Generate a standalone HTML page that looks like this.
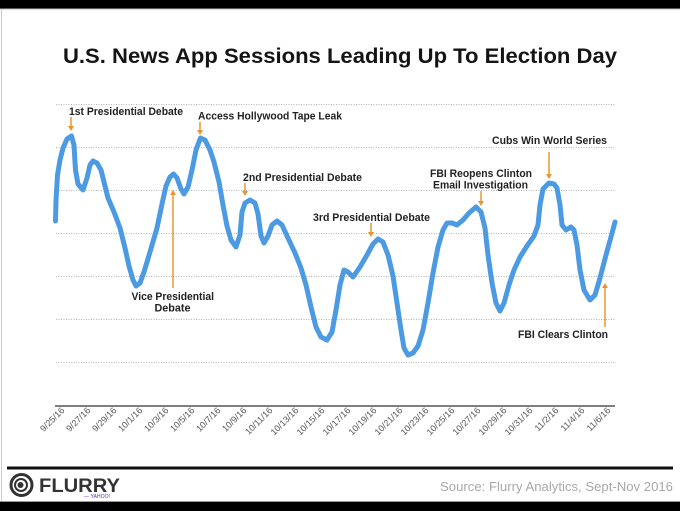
<!DOCTYPE html>
<html><head><meta charset="utf-8"><style>
html,body{margin:0;padding:0;background:#fff;}
svg{display:block;}
text{font-family:"Liberation Sans",sans-serif;}
</style></head><body>
<svg width="680" height="511" viewBox="0 0 680 511" xmlns="http://www.w3.org/2000/svg">
<rect x="0" y="0" width="680" height="511" fill="#fff"/>
<rect x="0" y="0" width="680" height="8.5" fill="#000"/>
<rect x="0" y="8.5" width="680" height="1" fill="#bbb"/>
<rect x="1" y="9" width="1" height="493" fill="#ccc"/>
<rect x="0" y="502" width="680" height="9" fill="#000"/>
<rect x="0" y="501" width="680" height="1" fill="#999"/>

<text x="63" y="63" font-size="21" font-weight="bold" fill="#141414" textLength="554" lengthAdjust="spacingAndGlyphs">U.S. News App Sessions Leading Up To Election Day</text>

<g stroke="#b5b5b5" stroke-width="1" stroke-dasharray="1,1.5">
<line x1="56" y1="104.5" x2="615" y2="104.5"/>
<line x1="56" y1="147.5" x2="615" y2="147.5"/>
<line x1="56" y1="190.5" x2="615" y2="190.5"/>
<line x1="56" y1="233.5" x2="615" y2="233.5"/>
<line x1="56" y1="276.5" x2="615" y2="276.5"/>
<line x1="56" y1="319.5" x2="615" y2="319.5"/>
<line x1="56" y1="362.5" x2="615" y2="362.5"/>
</g>
<line x1="55" y1="406" x2="615" y2="406" stroke="#555" stroke-width="1.5"/>

<polyline fill="none" stroke="#4c9be2" stroke-width="5" stroke-linejoin="round" stroke-linecap="round" points="55.5,221 56,200 57.5,175 60,160 63,148 67,139 71.5,136 74,145 75.5,170 78,184 83,190 87,178 90,165 93,161 97,163 101,170 104,182 108,198 114,212 120,228 125,248 129,266 133,280 136,286 140,283 144,272 150,252 157,228 162,204 166,186 170,177 173.5,174 177,178 181,189 184,194 188,187 192,170 196,150 200.5,138 205,140 210,150 214,162 219,182 223,205 227,226 231,240 236,247 240,235 242,212 245,203 250,200 255,203 258,214 261,236 264,243 268,236 272,225 277,221 282,225 288,238 295,253 301,268 306,285 311,307 316,327 321,337 327,340 332,332 336,310 340,285 344,270 348,272 353,277 360,267 367,255 373,244 378,239 383,242 388,255 393,276 397,303 401,330 404,348 408,355 413,353 418,346 423,330 428,303 433,273 438,247 443,230 447,223 452,223 457,225 463,220 469,213 476,207 481,212 485,228 488,255 492,283 496,303 500,311 504,303 509,285 514,270 520,257 527,246 534,236 538,225 540,205 543,189 549,183 554,184 557,188 560,205 562,225 566,230 571,227 574,230 577,245 580,270 584,290 590,300 595,295 600,278 606,255 611,237 615,222"/>

<g fill="#222" font-weight="bold" font-size="11">
<text x="69" y="115" textLength="114" lengthAdjust="spacingAndGlyphs">1st Presidential Debate</text>
<text x="198" y="119.5" textLength="144" lengthAdjust="spacingAndGlyphs">Access Hollywood Tape Leak</text>
<text x="243" y="181" textLength="119" lengthAdjust="spacingAndGlyphs">2nd Presidential Debate</text>
<text x="313" y="221" textLength="117" lengthAdjust="spacingAndGlyphs">3rd Presidential Debate</text>
<text x="131.5" y="300" textLength="82.5" lengthAdjust="spacingAndGlyphs">Vice Presidential</text>
<text x="154.5" y="311.5" textLength="36" lengthAdjust="spacingAndGlyphs">Debate</text>
<text x="430" y="177" textLength="102" lengthAdjust="spacingAndGlyphs">FBI Reopens Clinton</text>
<text x="433" y="188.5" textLength="95" lengthAdjust="spacingAndGlyphs">Email Investigation</text>
<text x="492" y="144" textLength="115" lengthAdjust="spacingAndGlyphs">Cubs Win World Series</text>
<text x="518" y="338" textLength="90" lengthAdjust="spacingAndGlyphs">FBI Clears Clinton</text>
</g>

<g stroke="#e8952e" stroke-width="1.5" fill="#e8952e">
<line x1="71" y1="117" x2="71" y2="127"/><polygon points="68,126 74,126 71,131" stroke="none"/>
<line x1="200" y1="122" x2="200" y2="131"/><polygon points="197,130 203,130 200,135" stroke="none"/>
<line x1="245" y1="183" x2="245" y2="192"/><polygon points="242,191 248,191 245,196" stroke="none"/>
<line x1="371" y1="223" x2="371" y2="233"/><polygon points="368,232 374,232 371,237" stroke="none"/>
<line x1="481" y1="191" x2="481" y2="202"/><polygon points="478,201 484,201 481,206" stroke="none"/>
<line x1="549" y1="152" x2="549" y2="175"/><polygon points="546,174 552,174 549,179" stroke="none"/>
<line x1="173" y1="194" x2="173" y2="288"/><polygon points="170,195 176,195 173,190" stroke="none"/>
<line x1="605" y1="287" x2="605" y2="327"/><polygon points="602,288 608,288 605,283" stroke="none"/>
</g>

<g fill="#555" font-size="9">
<text text-anchor="end" transform="translate(65,411) rotate(-45)">9/25/16</text>
<text text-anchor="end" transform="translate(91,411) rotate(-45)">9/27/16</text>
<text text-anchor="end" transform="translate(117,411) rotate(-45)">9/29/16</text>
<text text-anchor="end" transform="translate(143,411) rotate(-45)">10/1/16</text>
<text text-anchor="end" transform="translate(169,411) rotate(-45)">10/3/16</text>
<text text-anchor="end" transform="translate(195,411) rotate(-45)">10/5/16</text>
<text text-anchor="end" transform="translate(221,411) rotate(-45)">10/7/16</text>
<text text-anchor="end" transform="translate(247,411) rotate(-45)">10/9/16</text>
<text text-anchor="end" transform="translate(273,411) rotate(-45)">10/11/16</text>
<text text-anchor="end" transform="translate(299,411) rotate(-45)">10/13/16</text>
<text text-anchor="end" transform="translate(325,411) rotate(-45)">10/15/16</text>
<text text-anchor="end" transform="translate(351,411) rotate(-45)">10/17/16</text>
<text text-anchor="end" transform="translate(377,411) rotate(-45)">10/19/16</text>
<text text-anchor="end" transform="translate(403,411) rotate(-45)">10/21/16</text>
<text text-anchor="end" transform="translate(429,411) rotate(-45)">10/23/16</text>
<text text-anchor="end" transform="translate(455,411) rotate(-45)">10/25/16</text>
<text text-anchor="end" transform="translate(481,411) rotate(-45)">10/27/16</text>
<text text-anchor="end" transform="translate(507,411) rotate(-45)">10/29/16</text>
<text text-anchor="end" transform="translate(533,411) rotate(-45)">10/31/16</text>
<text text-anchor="end" transform="translate(559,411) rotate(-45)">11/2/16</text>
<text text-anchor="end" transform="translate(585,411) rotate(-45)">11/4/16</text>
<text text-anchor="end" transform="translate(611,411) rotate(-45)">11/6/16</text>
</g>

<rect x="7" y="466.5" width="666" height="3" fill="#111"/>

<circle cx="21.5" cy="485" r="10.5" fill="none" stroke="#333" stroke-width="3"/>
<circle cx="21" cy="485" r="6" fill="none" stroke="#333" stroke-width="2"/>
<circle cx="20.5" cy="485" r="3" fill="#333"/>
<text x="39" y="492" font-size="19" font-weight="bold" fill="#333" textLength="81" lengthAdjust="spacingAndGlyphs">FLURRY</text>
<text x="84" y="498" font-size="5" fill="#5f2fb0" textLength="26" lengthAdjust="spacingAndGlyphs">— YAHOO!</text>

<text x="440" y="491" font-size="13" fill="#a8a8a8" textLength="233" lengthAdjust="spacingAndGlyphs">Source: Flurry Analytics, Sept-Nov 2016</text>
</svg>
</body></html>
